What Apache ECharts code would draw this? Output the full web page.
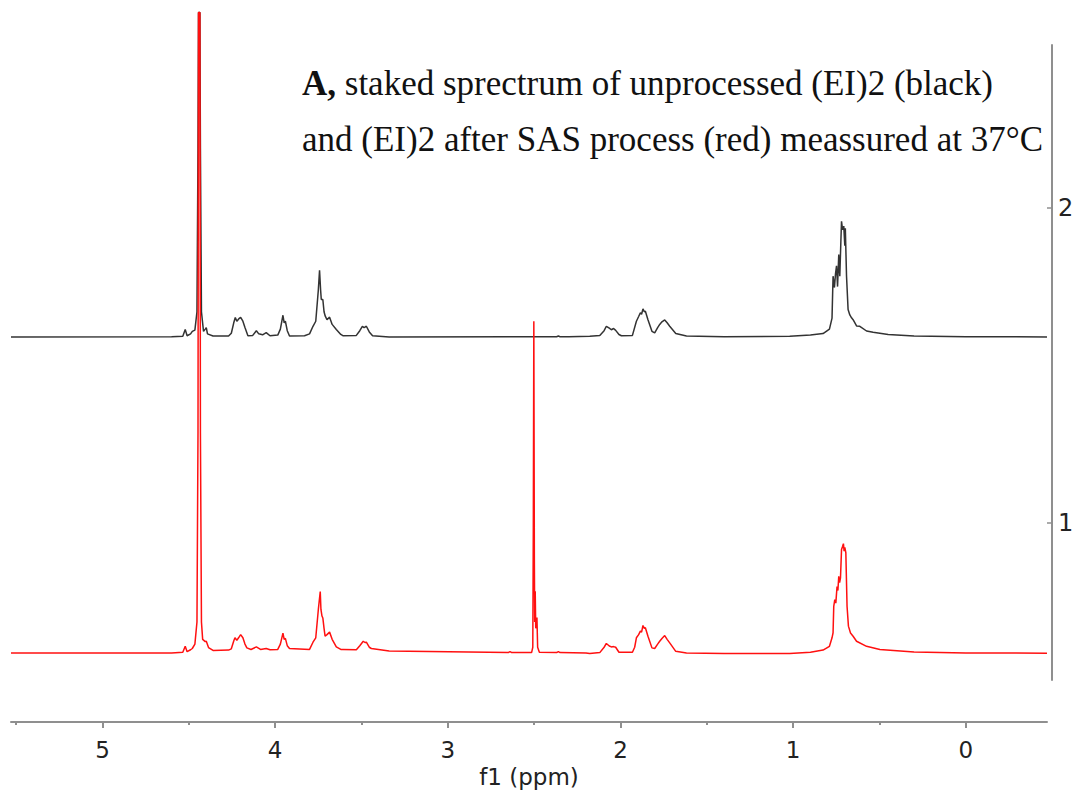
<!DOCTYPE html>
<html>
<head>
<meta charset="utf-8">
<title>1H NMR stacked spectra</title>
<script src="https://cdn.jsdelivr.net/npm/echarts@6/dist/echarts.min.js"></script>
<style>
  html, body { margin: 0; padding: 0; background: #fff; }
  #chart { width: 1080px; height: 798px; }
</style>
</head>
<body>
<div id="chart"></div>
<script>
// Chemical shift axis (ppm), drawn right-to-left as usual for NMR
const ppmRange = [-0.47, 5.53];
const ppmLabels = [0, 1, 2, 3, 4, 5];
const ppmMinorTicks = [-0.5, 0.5, 1.5, 2.5, 3.5, 4.5, 5.5];
const stackTicks = [1, 2];
const stackRange = [0.5, 2.516];

// Baselines of the two stacked traces on the vertical scale
const unprocessedBaseline = 1.589;
const sasBaseline = 0.584;

// Unprocessed (EI)2 — [ppm, intensity above baseline]
const unprocessed = [
  [5.530, 0.000], [4.600, 0.001], [4.535, 0.002], [4.521, 0.024], [4.510, 0.004],
  [4.490, 0.010], [4.480, 0.018], [4.465, 0.022], [4.453, 0.080], [4.447, 0.600],
  [4.444, 1.030], [4.436, 1.030], [4.433, 0.600], [4.427, 0.080], [4.415, 0.018],
  [4.405, 0.025], [4.399, 0.030], [4.392, 0.010], [4.360, 0.003], [4.270, 0.003],
  [4.254, 0.012], [4.240, 0.045], [4.231, 0.062], [4.222, 0.050], [4.210, 0.058],
  [4.200, 0.062], [4.187, 0.050], [4.175, 0.030], [4.158, 0.004], [4.130, 0.005],
  [4.109, 0.020], [4.095, 0.010], [4.073, 0.007], [4.052, 0.014], [4.030, 0.004],
  [3.985, 0.006], [3.970, 0.025], [3.955, 0.069], [3.948, 0.045], [3.941, 0.050],
  [3.930, 0.020], [3.917, 0.003], [3.830, 0.004], [3.801, 0.010], [3.781, 0.034],
  [3.765, 0.050], [3.750, 0.150], [3.743, 0.212], [3.737, 0.150], [3.733, 0.119],
  [3.724, 0.119], [3.717, 0.080], [3.710, 0.066], [3.700, 0.055], [3.685, 0.063],
  [3.670, 0.040], [3.646, 0.024], [3.620, 0.008], [3.608, 0.004], [3.530, 0.005],
  [3.510, 0.020], [3.495, 0.034], [3.485, 0.030], [3.472, 0.034], [3.455, 0.016],
  [3.436, 0.004], [3.340, 0.000], [2.370, 0.001], [2.360, 0.003], [2.350, 0.001],
  [2.300, 0.001], [2.178, 0.002], [2.120, 0.005], [2.095, 0.020], [2.082, 0.034],
  [2.065, 0.028], [2.053, 0.023], [2.040, 0.027], [2.028, 0.021], [2.009, 0.008],
  [1.995, 0.004], [1.931, 0.005], [1.908, 0.050], [1.895, 0.065], [1.885, 0.077],
  [1.878, 0.072], [1.870, 0.089], [1.862, 0.080], [1.856, 0.082], [1.841, 0.055],
  [1.818, 0.018], [1.802, 0.013], [1.785, 0.030], [1.773, 0.040], [1.760, 0.048],
  [1.744, 0.054], [1.730, 0.045], [1.715, 0.034], [1.680, 0.011], [1.618, 0.003],
  [1.400, 0.001], [1.020, 0.002], [0.900, 0.006], [0.827, 0.011], [0.790, 0.025],
  [0.775, 0.060], [0.769, 0.193], [0.761, 0.157], [0.755, 0.200], [0.749, 0.226],
  [0.743, 0.160], [0.736, 0.262], [0.730, 0.193], [0.724, 0.300], [0.720, 0.367],
  [0.714, 0.340], [0.707, 0.352], [0.701, 0.290], [0.698, 0.345], [0.691, 0.193],
  [0.682, 0.087], [0.672, 0.070], [0.662, 0.061], [0.653, 0.055], [0.633, 0.035],
  [0.614, 0.034], [0.575, 0.019], [0.537, 0.015], [0.450, 0.008], [0.300, 0.003],
  [0.000, 0.001], [-0.470, 0.000]
];

// (EI)2 after SAS process — [ppm, intensity above baseline]
const afterSas = [
  [5.530, 0.002], [4.600, 0.002], [4.535, 0.004], [4.521, 0.023], [4.510, 0.006],
  [4.490, 0.012], [4.480, 0.016], [4.465, 0.030], [4.453, 0.100], [4.447, 0.700],
  [4.444, 2.035], [4.436, 2.035], [4.433, 0.700], [4.427, 0.100], [4.420, 0.045],
  [4.405, 0.038], [4.399, 0.039], [4.386, 0.019], [4.360, 0.010], [4.270, 0.011],
  [4.254, 0.015], [4.240, 0.040], [4.233, 0.050], [4.222, 0.042], [4.212, 0.050],
  [4.200, 0.060], [4.187, 0.050], [4.175, 0.030], [4.164, 0.018], [4.140, 0.013],
  [4.109, 0.021], [4.085, 0.013], [4.052, 0.016], [4.030, 0.012], [3.985, 0.013],
  [3.970, 0.030], [3.955, 0.065], [3.948, 0.045], [3.941, 0.048], [3.930, 0.025],
  [3.917, 0.016], [3.830, 0.014], [3.801, 0.013], [3.781, 0.036], [3.765, 0.050],
  [3.750, 0.140], [3.739, 0.197], [3.735, 0.140], [3.729, 0.119], [3.724, 0.113],
  [3.717, 0.080], [3.711, 0.055], [3.700, 0.060], [3.685, 0.068], [3.670, 0.045],
  [3.646, 0.021], [3.620, 0.013], [3.608, 0.013], [3.530, 0.012], [3.510, 0.025],
  [3.490, 0.039], [3.480, 0.035], [3.472, 0.036], [3.455, 0.020], [3.443, 0.016],
  [3.340, 0.008], [2.650, 0.003], [2.640, 0.006], [2.630, 0.003], [2.515, 0.003],
  [2.508, 0.020], [2.505, 0.400], [2.502, 1.055], [2.499, 0.300], [2.497, 0.100],
  [2.494, 0.198], [2.491, 0.080], [2.487, 0.090], [2.484, 0.114], [2.480, 0.020],
  [2.470, 0.004], [2.370, 0.003], [2.360, 0.006], [2.350, 0.003], [2.200, 0.002],
  [2.178, 0.000], [2.120, 0.003], [2.095, 0.020], [2.082, 0.032], [2.065, 0.024],
  [2.053, 0.021], [2.040, 0.022], [2.028, 0.020], [2.009, 0.004], [1.995, 0.004],
  [1.931, 0.004], [1.918, 0.020], [1.908, 0.050], [1.895, 0.060], [1.885, 0.071],
  [1.878, 0.068], [1.870, 0.089], [1.862, 0.080], [1.856, 0.082], [1.841, 0.055],
  [1.818, 0.018], [1.802, 0.016], [1.785, 0.030], [1.773, 0.039], [1.760, 0.048],
  [1.744, 0.057], [1.730, 0.045], [1.715, 0.034], [1.680, 0.007], [1.618, 0.002],
  [1.400, 0.000], [1.020, 0.000], [0.900, 0.004], [0.827, 0.011], [0.790, 0.023],
  [0.775, 0.050], [0.769, 0.066], [0.765, 0.150], [0.759, 0.171], [0.753, 0.160],
  [0.746, 0.213], [0.741, 0.200], [0.736, 0.245], [0.731, 0.225], [0.726, 0.240],
  [0.720, 0.330], [0.714, 0.340], [0.709, 0.349], [0.705, 0.325], [0.701, 0.337],
  [0.695, 0.320], [0.688, 0.150], [0.680, 0.087], [0.668, 0.065], [0.653, 0.055],
  [0.633, 0.039], [0.575, 0.023], [0.498, 0.013], [0.300, 0.005], [0.000, 0.002],
  [-0.470, 0.001]
];

const captionBold = 'A,';
const captionLine1 = ' staked sprectrum of unprocessed (EI)2 (black)';
const captionLine2 = 'and (EI)2 after SAS process (red) meassured at 37°C';
const axisTitle = 'f1 (ppm)';

// Shift each trace onto its stacking baseline
const stacked = (pts, base) => pts.map(([ppm, v]) => [ppm, +(v + base).toFixed(4)]);

const chart = echarts.init(document.getElementById('chart'), null, { renderer: 'svg' });

const axisGray = '#8f8f8f';
const labelFont = 'DejaVu Sans, Verdana, sans-serif';
const serifFont = 'Liberation Serif, Times New Roman, serif';

chart.setOption({
  animation: false,
  backgroundColor: '#ffffff',
  grid: { left: 11, right: 33, top: 45, bottom: 118, containLabel: false },
  graphic: [{
    type: 'text',
    left: 302,
    top: 66,
    style: {
      text: '{b|' + captionBold + '}{n|' + captionLine1 + '}\n{n|' + captionLine2 + '}',
      rich: {
        b: { fontFamily: serifFont, fontWeight: 'bold', fontSize: 35, lineHeight: 56, fill: '#111' },
        n: { fontFamily: serifFont, fontSize: 35, lineHeight: 56, fill: '#111' }
      }
    }
  }],
  xAxis: [{
    type: 'value',
    inverse: true,
    min: ppmRange[0],
    max: ppmRange[1],
    position: 'bottom',
    offset: 42,
    name: axisTitle,
    nameLocation: 'middle',
    nameGap: 42,
    nameTextStyle: { fontFamily: labelFont, fontSize: 23, color: '#222' },
    axisLine: { show: true, onZero: false, lineStyle: { color: axisGray, width: 2 } },
    axisTick: { show: true, customValues: ppmLabels, length: 6, lineStyle: { color: axisGray, width: 2 } },
    axisLabel: { customValues: ppmLabels, margin: 16, fontFamily: labelFont, fontSize: 23, color: '#222' },
    splitLine: { show: false }
  }, {
    // half-ppm minor ticks sharing the same baseline
    type: 'value',
    inverse: true,
    min: ppmRange[0],
    max: ppmRange[1],
    position: 'bottom',
    offset: 42,
    axisLine: { show: false, onZero: false },
    axisTick: { show: true, customValues: ppmMinorTicks, length: 3, lineStyle: { color: axisGray, width: 2 } },
    axisLabel: { show: false },
    splitLine: { show: false }
  }],
  yAxis: {
    type: 'value',
    position: 'right',
    offset: 5,
    min: stackRange[0],
    max: stackRange[1],
    axisLine: { show: true, onZero: false, lineStyle: { color: axisGray, width: 2 } },
    axisTick: { show: true, inside: true, customValues: stackTicks, length: 5, lineStyle: { color: axisGray, width: 1.5 } },
    axisLabel: { customValues: stackTicks, margin: 6, fontFamily: labelFont, fontSize: 24, color: '#222' },
    splitLine: { show: false }
  },
  series: [{
    name: 'unprocessed (EI)2',
    type: 'line',
    xAxisIndex: 0,
    showSymbol: false,
    clip: false,
    z: 2,
    lineStyle: { color: '#333333', width: 1.5 },
    data: stacked(unprocessed, unprocessedBaseline)
  }, {
    name: '(EI)2 after SAS',
    type: 'line',
    xAxisIndex: 0,
    showSymbol: false,
    clip: false,
    z: 3,
    lineStyle: { color: '#ff1010', width: 1.5 },
    data: stacked(afterSas, sasBaseline)
  }]
});
</script>
</body>
</html>
